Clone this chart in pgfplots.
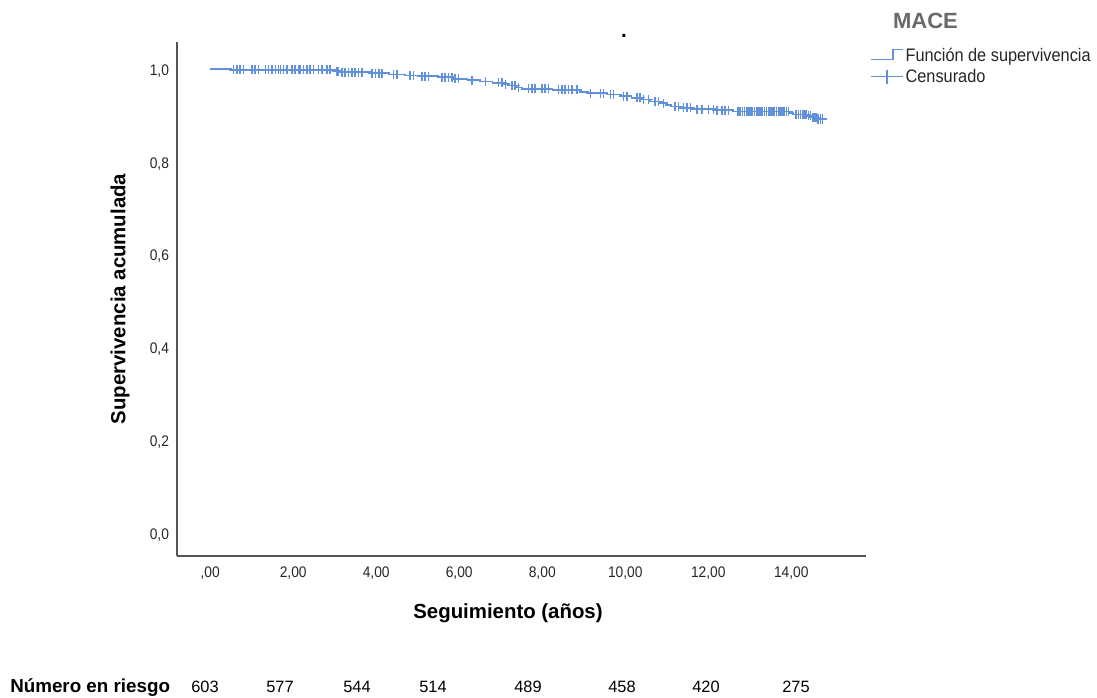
\documentclass[border=0pt]{standalone}
\usepackage{pgfplots}
\pgfplotsset{compat=1.18}
\usepackage{pgfplotstable}
\usepackage{fontspec}
\setmainfont{Liberation Sans}
\newfontfamily\narrowfont{Liberation Sans}[FakeStretch=0.9]
\definecolor{kmblue}{RGB}{97,145,219}
\definecolor{spine}{RGB}{85,85,85}
\definecolor{titlegray}{RGB}{105,105,105}

% Kaplan-Meier estimate: t = years, S = cumulative survival, c = 1 for censored cases
\pgfplotstableread{
t S c
0.00 1.000 0
0.50 0.998 0
0.56 0.998 1
0.64 0.998 1
0.72 0.998 1
0.80 0.998 1
1.00 0.998 1
1.08 0.998 1
1.16 0.998 1
1.33 0.998 1
1.40 0.998 1
1.49 0.998 1
1.57 0.998 1
1.65 0.998 1
1.69 0.998 1
1.77 0.998 1
1.85 0.998 1
1.97 0.998 1
2.05 0.998 1
2.13 0.998 1
2.17 0.998 1
2.25 0.998 1
2.33 0.998 1
2.41 0.998 1
2.49 0.998 1
2.61 0.998 1
2.69 0.998 1
2.81 0.998 1
2.89 0.998 1
3.00 0.995 0
3.05 0.995 1
3.09 0.995 1
3.15 0.993 0
3.17 0.993 1
3.25 0.993 1
3.33 0.993 1
3.41 0.993 1
3.49 0.993 1
3.57 0.993 1
3.66 0.993 1
3.85 0.991 0
3.90 0.991 1
3.98 0.991 1
4.06 0.991 1
4.14 0.991 1
4.30 0.988 0
4.42 0.988 1
4.50 0.988 1
4.70 0.986 0
4.82 0.986 1
4.90 0.986 1
5.05 0.984 0
5.10 0.984 1
5.18 0.984 1
5.26 0.984 1
5.50 0.982 0
5.58 0.982 1
5.66 0.982 1
5.74 0.982 1
5.82 0.982 1
5.86 0.979 0
5.90 0.979 1
5.98 0.979 1
6.20 0.976 0
6.31 0.976 1
6.50 0.973 0
6.63 0.973 1
6.80 0.970 0
6.95 0.970 1
7.03 0.970 1
7.06 0.967 0
7.11 0.967 1
7.20 0.964 0
7.27 0.964 1
7.35 0.964 1
7.40 0.960 0
7.43 0.960 1
7.50 0.957 0
7.67 0.957 1
7.75 0.957 1
7.83 0.957 1
7.99 0.957 1
8.07 0.957 1
8.15 0.957 1
8.25 0.955 0
8.39 0.955 1
8.48 0.955 1
8.55 0.955 1
8.63 0.955 1
8.72 0.955 1
8.84 0.955 1
8.90 0.951 0
9.10 0.948 0
9.16 0.948 1
9.40 0.948 1
9.48 0.948 1
9.55 0.945 0
9.64 0.945 1
9.72 0.945 1
9.90 0.941 0
9.96 0.941 1
10.04 0.941 1
10.15 0.938 0
10.28 0.938 1
10.36 0.938 1
10.40 0.934 0
10.44 0.934 1
10.56 0.934 1
10.60 0.930 0
10.72 0.930 1
10.80 0.930 1
10.85 0.926 0
10.92 0.926 1
10.98 0.922 0
11.10 0.919 0
11.20 0.919 1
11.28 0.919 1
11.35 0.916 0
11.40 0.916 1
11.49 0.916 1
11.57 0.916 1
11.60 0.913 0
11.73 0.913 1
11.85 0.913 1
12.01 0.913 1
12.13 0.913 1
12.20 0.911 0
12.21 0.911 1
12.33 0.911 1
12.41 0.911 1
12.49 0.911 1
12.60 0.908 0
12.72 0.908 1
12.77 0.908 1
12.82 0.908 1
12.87 0.908 1
12.92 0.908 1
12.96 0.908 1
13.01 0.908 1
13.06 0.908 1
13.11 0.908 1
13.16 0.908 1
13.20 0.908 1
13.25 0.908 1
13.30 0.908 1
13.35 0.908 1
13.40 0.908 1
13.45 0.908 1
13.49 0.908 1
13.54 0.908 1
13.59 0.908 1
13.64 0.908 1
13.69 0.908 1
13.73 0.908 1
13.78 0.908 1
13.83 0.908 1
13.88 0.908 1
13.93 0.908 1
13.95 0.905 0
14.05 0.902 0
14.12 0.902 1
14.17 0.902 1
14.22 0.902 1
14.27 0.902 1
14.31 0.902 1
14.36 0.902 1
14.40 0.899 0
14.41 0.899 1
14.46 0.899 1
14.50 0.895 0
14.51 0.895 1
14.55 0.895 1
14.60 0.895 1
14.62 0.892 0
14.65 0.892 1
14.70 0.892 1
14.75 0.892 1
14.80 0.892 0
}\kmdata

\begin{document}
\begin{tikzpicture}
\path[use as bounding box] (0pt,0pt) rectangle (822.75pt,523.5pt);
\begin{axis}[
  at={(132.75pt,106.5pt)}, anchor=south west,
  scale only axis, width=516.75pt, height=385.5pt,
  xmin=-0.8, xmax=15.8, ymin=-0.0496, ymax=1.058,
  axis x line*=bottom, axis y line*=left,
  axis line style={-, draw=spine, line width=1pt},
  major tick length=0pt,
  xtick={0,2,4,6,8,10,12,14},
  xticklabels={{,00},{2,00},{4,00},{6,00},{8,00},{10,00},{12,00},{14,00}},
  ytick={0,0.2,0.4,0.6,0.8,1.0},
  yticklabels={{0,0},{0,2},{0,4},{0,6},{0,8},{1,0}},
  tick label style={font=\narrowfont\fontsize{11.5}{13}\selectfont, text=black!85},
  xticklabel style={yshift=-4.5pt},
  yticklabel style={xshift=-2.5pt, yshift=-1.5pt},
  xlabel={Seguimiento (años)},
  ylabel={Supervivencia acumulada},
  xlabel style={at={(axis description cs:0.4804,-0.111)}, anchor=center,
    font=\fontsize{15.3}{18}\selectfont\bfseries},
  ylabel style={at={(axis description cs:-0.0827,0.5)}, anchor=center,
    font=\fontsize{15.3}{18}\selectfont\bfseries},
  legend style={draw=none, fill=none, at={(axis description cs:1.0058,0.9917)},
    anchor=north west, inner sep=0pt, row sep=1pt,
    font=\narrowfont\fontsize{13.6}{15}\selectfont, text=black!85,
    nodes={inner sep=1.5pt}},
  legend cell align=left,
  clip=false,
]
\addplot[const plot, color=kmblue, line width=1.3pt, mark=none,
  legend image code/.code={
    \draw[kmblue, line width=1pt] (0pt,-2.25pt) -- (16.5pt,-2.25pt) -- (16.5pt,5.25pt) -- (24pt,5.25pt);}]
  table[x=t, y=S] {\kmdata};
\addlegendentry{Función de supervivencia}
\addplot[only marks, mark=+, mark size=3.4pt, color=kmblue, line width=1.2pt,
  restrict expr to domain={\thisrow{c}}{0.5:1.5},
  legend image code/.code={
    \draw[kmblue, line width=1pt] (0pt,0pt) -- (24pt,0pt);
    \draw[kmblue, line width=1pt] (12pt,-5.25pt) -- (12pt,5.25pt);}]
  table[x=t, y=S] {\kmdata};
\addlegendentry{Censurado}
\end{axis}
\begin{scope}[x=0.75pt, y=0.75pt]
  \node[anchor=base west, inner sep=0pt, font=\fontsize{14.1}{16}\selectfont\bfseries] at (10,5.5) {Número en riesgo};
  \foreach \xx/\nn in {205/603,280/577,357/544,433/514,528/489,622/458,706/420,796/275}
    \node[anchor=base, inner sep=0pt, font=\fontsize{12.3}{14}\selectfont] at (\xx,5.5) {\nn};
  \node[anchor=center, inner sep=0pt, text=titlegray, font=\fontsize{16.5}{18}\selectfont\bfseries] at (925.5,677.5) {MACE};
  \node[anchor=base, inner sep=0pt, font=\fontsize{15.3}{18}\selectfont\bfseries] at (624,660.5) {.};
\end{scope}
\end{tikzpicture}
\end{document}
